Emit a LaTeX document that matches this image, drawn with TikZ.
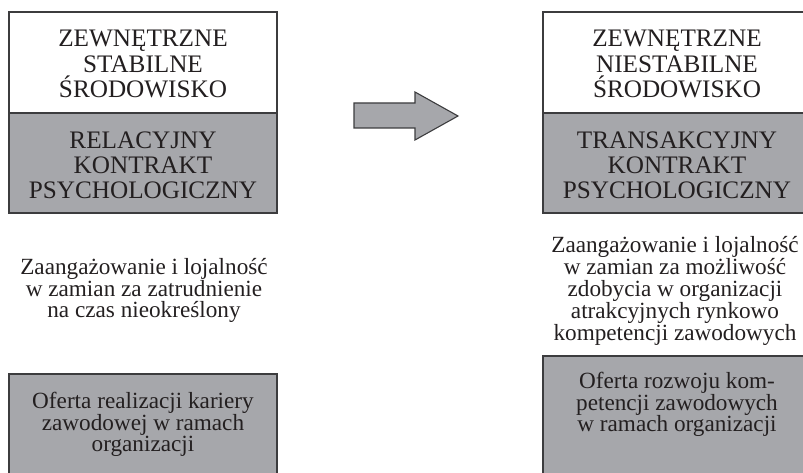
\documentclass[tikz,border=0pt]{standalone}
\usepackage{fontspec}
\setmainfont{Liberation Serif}
\definecolor{boxgray}{RGB}{166,167,171}
\definecolor{edgegray}{RGB}{60,60,62}
\definecolor{txt}{RGB}{35,31,32}
\begin{document}
\begin{tikzpicture}[x=1pt,y=-1pt,
  panel/.style={draw=edgegray,line width=1.3pt},
  capstext/.style={align=center,inner sep=0pt,text=txt,font=\fontsize{25.2}{25.2}\selectfont},
  lowtext/.style={align=center,inner sep=0pt,text=txt,font=\fontsize{23.2}{21.8}\selectfont}]
\useasboundingbox (0,0) rectangle (803,473);
% left top box
\path[panel,fill=white] (9,12) rectangle (277,113);
\path[panel,fill=boxgray] (9,113) rectangle (277,213);
% right top box
\path[panel,fill=white] (543,12) rectangle (811,113);
\path[panel,fill=boxgray] (543,113) rectangle (811,213);
% bottom boxes
\path[panel,fill=boxgray] (9,374) rectangle (277,480);
\path[panel,fill=boxgray] (543,356) rectangle (811,480);
% arrow
\path[panel,fill=boxgray,line width=1.1pt,line join=miter]
  (354,103) -- (415,103) -- (415,92) -- (458,116) -- (415,140) -- (415,128) -- (354,128) -- cycle;
% texts
\node[capstext] (lenv) at (143,64) {ZEWNĘTRZNE\\STABILNE\\ŚRODOWISKO};
\node[capstext] (lcon) at (143,165) {RELACYJNY\\KONTRAKT\\PSYCHOLOGICZNY};
\node[capstext] (renv) at (677,64) {ZEWNĘTRZNE\\NIESTABILNE\\ŚRODOWISKO};
\node[capstext] (rcon) at (677,165) {TRANSAKCYJNY\\KONTRAKT\\PSYCHOLOGICZNY};
\node[lowtext] (ldesc) at (144,290.5) {Zaangażowanie i lojalność\\w zamian za zatrudnienie\\na czas nieokreślony};
\node[lowtext] (rdesc) at (675,291) {Zaangażowanie i lojalność\\w zamian za możliwość\\zdobycia w organizacji\\atrakcyjnych rynkowo\\kompetencji zawodowych};
\node[lowtext] (loffer) at (143,424.5) {Oferta realizacji kariery\\zawodowej w ramach\\organizacji};
\node[lowtext] (roffer) at (677,404.5) {Oferta rozwoju kom-\\petencji zawodowych\\w ramach organizacji};
\end{tikzpicture}
\end{document}
